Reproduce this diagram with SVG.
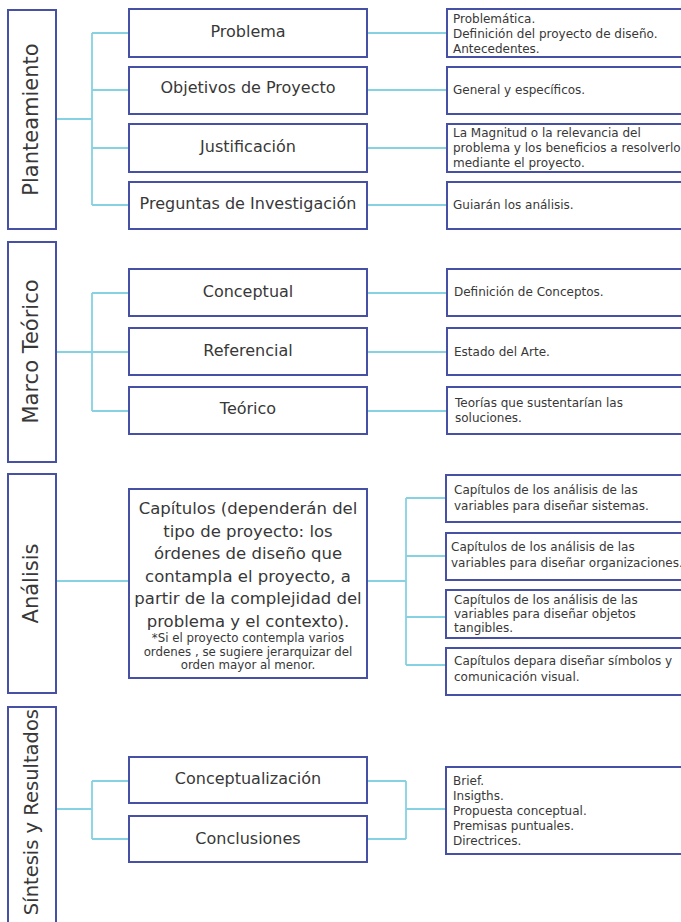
<svg xmlns="http://www.w3.org/2000/svg" width="681" height="922" viewBox="0 0 681 922">
  <style>
    .box { fill: #ffffff; stroke: #4651a6; stroke-width: 2; }
    .link { fill: none; stroke: #86d2e3; stroke-width: 1.8; }
    text { font-family: "DejaVu Sans", "Liberation Sans", sans-serif; fill: #383838; }
    .side { font-size: 21px; text-anchor: middle; }
    .item { font-size: 16px; text-anchor: middle; }
    .note { font-size: 12px; }
    .big { font-size: 16.5px; text-anchor: middle; }
    .small { font-size: 11.8px; text-anchor: middle; }
  </style>
  <rect width="681" height="922" fill="#ffffff"/>

  <!-- connectors -->
  <g id="connectors" class="link">
    <!-- Planteamiento -->
    <path d="M56 119 H92 M92 33 V205 M92 33 H129 M92 90 H129 M92 148 H129 M92 205 H129"/>
    <path d="M367 33 H447 M367 90 H447 M367 148 H447 M367 205 H447"/>
    <!-- Marco Teórico -->
    <path d="M56 352 H92 M92 293 V411 M92 293 H129 M92 352 H129 M92 411 H129"/>
    <path d="M367 293 H447 M367 352 H447 M367 411 H447"/>
    <!-- Análisis -->
    <path d="M56 581 H129 M367 581 H406 M406 498 V665 M406 498 H446 M406 556 H446 M406 617 H446 M406 665 H446"/>
    <!-- Síntesis y Resultados -->
    <path d="M56 809 H92 M92 781 V839 M92 781 H129 M92 839 H129"/>
    <path d="M367 781 H406 M367 839 H406 M406 781 V839 M406 809 H446"/>
  </g>

  <!-- Planteamiento -->
  <g id="planteamiento">
    <rect class="box" x="8" y="10" width="48" height="219"/>
    <text class="side" transform="translate(38 119.5) rotate(-90)">Planteamiento</text>
  </g>
  <g id="problema">
    <rect class="box" x="129" y="9" width="238" height="48"/>
    <text class="item" x="248" y="37">Problema</text>
  </g>
  <g id="objetivos">
    <rect class="box" x="129" y="67" width="238" height="47"/>
    <text class="item" x="248" y="93">Objetivos de Proyecto</text>
  </g>
  <g id="justificacion">
    <rect class="box" x="129" y="124" width="238" height="48"/>
    <text class="item" x="248" y="152">Justificación</text>
  </g>
  <g id="preguntas">
    <rect class="box" x="129" y="182" width="238" height="47"/>
    <text class="item" x="248" y="209">Preguntas de Investigación</text>
  </g>
  <g id="problema-detalle">
    <rect class="box" x="447" y="9" width="260" height="48"/>
    <text class="note" x="453" y="23">Problemática.</text>
    <text class="note" x="453" y="38">Definición del proyecto de diseño.</text>
    <text class="note" x="453" y="53">Antecedentes.</text>
  </g>
  <g id="objetivos-detalle">
    <rect class="box" x="447" y="67" width="260" height="47"/>
    <text class="note" x="453" y="94">General y específicos.</text>
  </g>
  <g id="justificacion-detalle">
    <rect class="box" x="447" y="124" width="260" height="48"/>
    <text class="note" x="453" y="137">La Magnitud o la relevancia del</text>
    <text class="note" x="453" y="152">problema y los beneficios a resolverlo</text>
    <text class="note" x="453" y="167">mediante el proyecto.</text>
  </g>
  <g id="preguntas-detalle">
    <rect class="box" x="447" y="182" width="260" height="47"/>
    <text class="note" x="453" y="209">Guiarán los análisis.</text>
  </g>

  <!-- Marco Teórico -->
  <g id="marco-teorico">
    <rect class="box" x="8" y="242" width="48" height="220"/>
    <text class="side" transform="translate(38 351.5) rotate(-90)">Marco Teórico</text>
  </g>
  <g id="conceptual">
    <rect class="box" x="129" y="269" width="238" height="47"/>
    <text class="item" x="248" y="297">Conceptual</text>
  </g>
  <g id="referencial">
    <rect class="box" x="129" y="328" width="238" height="47"/>
    <text class="item" x="248" y="356">Referencial</text>
  </g>
  <g id="teorico">
    <rect class="box" x="129" y="387" width="238" height="47"/>
    <text class="item" x="248" y="414">Teórico</text>
  </g>
  <g id="conceptual-detalle">
    <rect class="box" x="447" y="269" width="260" height="47"/>
    <text class="note" x="454" y="296">Definición de Conceptos.</text>
  </g>
  <g id="referencial-detalle">
    <rect class="box" x="447" y="328" width="260" height="47"/>
    <text class="note" x="454" y="356">Estado del Arte.</text>
  </g>
  <g id="teorico-detalle">
    <rect class="box" x="447" y="387" width="260" height="47"/>
    <text class="note" x="455" y="407">Teorías que sustentarían las</text>
    <text class="note" x="455" y="422">soluciones.</text>
  </g>

  <!-- Análisis -->
  <g id="analisis">
    <rect class="box" x="8" y="474" width="48" height="219"/>
    <text class="side" transform="translate(38 583.5) rotate(-90)">Análisis</text>
  </g>
  <g id="capitulos">
    <rect class="box" x="129" y="489" width="238" height="189"/>
    <text class="big" x="248" y="514">Capítulos (dependerán del</text>
    <text class="big" x="248" y="537">tipo de proyecto: los</text>
    <text class="big" x="248" y="559">órdenes de diseño que</text>
    <text class="big" x="248" y="582">contampla el proyecto, a</text>
    <text class="big" x="248" y="604">partir de la complejidad del</text>
    <text class="big" x="248" y="627">problema y el contexto).</text>
    <text class="small" x="248" y="642">*Si el proyecto contempla varios</text>
    <text class="small" x="248" y="656">ordenes , se sugiere jerarquizar del</text>
    <text class="small" x="248" y="669">orden mayor al menor.</text>
  </g>
  <g id="sistemas">
    <rect class="box" x="446" y="475" width="260" height="47"/>
    <text class="note" x="454" y="494">Capítulos de los análisis de las</text>
    <text class="note" x="454" y="510">variables para diseñar sistemas.</text>
  </g>
  <g id="organizaciones">
    <rect class="box" x="446" y="533" width="260" height="47"/>
    <text class="note" x="451" y="551">Capítulos de los análisis de las</text>
    <text class="note" x="451" y="567">variables para diseñar organizaciones.</text>
  </g>
  <g id="objetos">
    <rect class="box" x="446" y="590" width="260" height="48"/>
    <text class="note" x="454" y="604">Capítulos de los análisis de las</text>
    <text class="note" x="454" y="618">variables para diseñar objetos</text>
    <text class="note" x="454" y="632">tangibles.</text>
  </g>
  <g id="simbolos">
    <rect class="box" x="446" y="648" width="260" height="47"/>
    <text class="note" x="454" y="665">Capítulos depara diseñar símbolos y</text>
    <text class="note" x="454" y="681">comunicación visual.</text>
  </g>

  <!-- Síntesis y Resultados -->
  <g id="sintesis">
    <rect class="box" x="8" y="707" width="48" height="240"/>
    <text class="side" style="text-anchor:end; font-size:19.5px" transform="translate(38 709) rotate(-90)">Síntesis y Resultados</text>
  </g>
  <g id="conceptualizacion">
    <rect class="box" x="129" y="757" width="238" height="46"/>
    <text class="item" x="248" y="784">Conceptualización</text>
  </g>
  <g id="conclusiones">
    <rect class="box" x="129" y="816" width="238" height="46"/>
    <text class="item" x="248" y="844">Conclusiones</text>
  </g>
  <g id="resultados-detalle">
    <rect class="box" x="446" y="767" width="260" height="87"/>
    <text class="note" x="453" y="785">Brief.</text>
    <text class="note" x="453" y="800">Insigths.</text>
    <text class="note" x="453" y="815">Propuesta conceptual.</text>
    <text class="note" x="453" y="830">Premisas puntuales.</text>
    <text class="note" x="453" y="845">Directrices.</text>
  </g>
</svg>
